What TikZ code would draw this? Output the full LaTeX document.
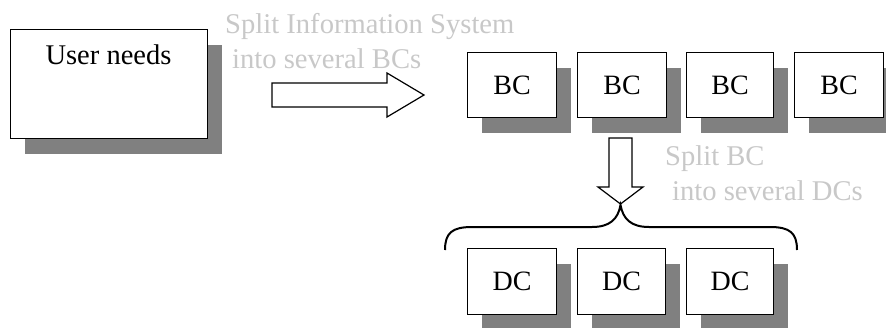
\documentclass[tikz,border=0pt]{standalone}
\usepackage{fontspec}
\setmainfont{Liberation Serif}
\usetikzlibrary{shadows}
\definecolor{shadowgray}{RGB}{128,128,128}
\definecolor{notegray}{RGB}{200,200,200}
\begin{document}
\begin{tikzpicture}[x=1pt,y=-1pt,
  boxstyle/.style={draw=black, line width=1.2pt, fill=white, inner sep=0pt,
    general shadow={fill=shadowgray, shadow xshift=14pt, shadow yshift=-15pt},
    font=\fontsize{28}{33}\selectfont},
  smallbox/.style={boxstyle, minimum width=89pt, minimum height=65pt, anchor=north west},
  notestyle/.style={text=notegray, inner sep=0pt, align=left, font=\fontsize{28.6}{35}\selectfont},
  blockarrow/.style={draw=black, line width=1.2pt, fill=white, line join=miter},
  bracestyle/.style={draw=black, line width=2pt}]
\useasboundingbox (0,0) rectangle (886,327);
% User needs
\node[boxstyle, minimum width=197pt, minimum height=109pt, anchor=north west] (un) at (10,29) {};
\node[anchor=base, inner sep=0pt, font=\fontsize{28.5}{33}\selectfont] (unt) at (108.5,64) {User needs};
% note 1
\node[notestyle, anchor=base west] (n1) at (225,68) {Split Information System\\\hspace{7pt}into several BCs};
% right block arrow
\draw[blockarrow] (272,83) -- (387,83) -- (387,73) -- (424,95) -- (387,117) -- (387,107) -- (272,107) -- cycle;
% BCs
\node[smallbox] (bc1) at (467,52) {BC};
\node[smallbox] (bc2) at (577,52) {BC};
\node[smallbox, minimum width=87pt] (bc3) at (686,52) {BC};
\node[smallbox] (bc4) at (794,52) {BC};
% note 2
\node[notestyle, anchor=base west] (n2) at (665,200) {Split BC\\\hspace{7pt}into several DCs};
% down block arrow
\draw[blockarrow] (609,138) -- (632,138) -- (632,187) -- (643,187) -- (620.5,204) -- (598,187) -- (609,187) -- cycle;
% brace
\coordinate (cusp) at (620.5,205);
\draw[bracestyle] (445,250) .. controls (445,233) and (452,227) .. (472,227) -- (592,227)
  .. controls (610,227) and (618,219) .. (cusp)
  .. controls (623,219) and (631,227) .. (649,227) -- (770,227)
  .. controls (790,227) and (797,233) .. (797,250);
% DCs
\node[smallbox, minimum height=66pt] (dc1) at (467,248) {DC};
\node[smallbox, minimum height=66pt, minimum width=88pt] (dc2) at (577,248) {DC};
\node[smallbox, minimum height=66pt, minimum width=87pt] (dc3) at (686,248) {DC};
\end{tikzpicture}
\end{document}
